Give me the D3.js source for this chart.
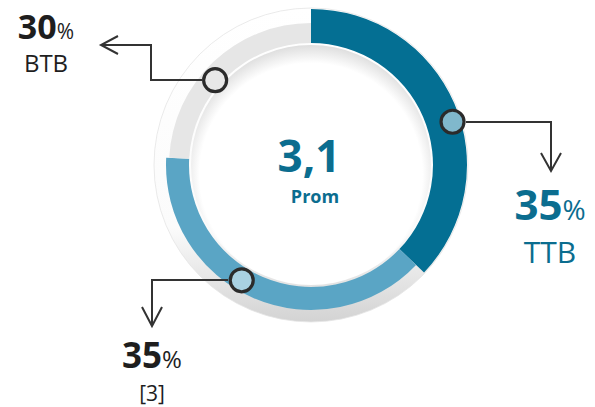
<!DOCTYPE html>
<html lang="es">
<head>
  <meta charset="utf-8">
  <title>Prom donut</title>
  <script src="https://d3js.org/d3.v7.min.js"></script>
  <style>
    body { margin: 0; background: #fff; }
    text { font-family: "Open Sans", sans-serif; }
  </style>
</head>
<body>
<script>
  // data
  var categories = ['TTB', '[3]', 'BTB'];
  var percents = [35, 35, 30];            // printed labels
  var arcShare = [37.1, 38.7, 24.2];       // visible arc lengths (% of the ring)
  var average = '3,1';
  var averageLabel = 'Prom';

  var colors = ['#046f93', '#5aa5c5', '#e6e6e6'];
  var markerFill = ['#80b8cc', '#a9d1e2', '#e8e8e8'];

  var w = 595, h = 407;
  var cx = 311, cy = 165;
  var innerR = 122;
  var outerR = [156, 145, 142];

  var svg = d3.select('body').append('svg')
    .attr('width', w)
    .attr('height', h);

  var defs = svg.append('defs');
  var halo = defs.append('linearGradient').attr('id', 'halo')
    .attr('x1', 0).attr('y1', 0).attr('x2', 0).attr('y2', 1);
  halo.append('stop').attr('offset', '0%').attr('stop-color', '#ffffff');
  halo.append('stop').attr('offset', '70%').attr('stop-color', '#fbfbfb');
  halo.append('stop').attr('offset', '100%').attr('stop-color', '#d3d3d3');

  var disc = defs.append('radialGradient').attr('id', 'disc')
    .attr('cx', '50%').attr('cy', '54%').attr('r', '54%');
  disc.append('stop').attr('offset', '86%').attr('stop-color', '#ffffff');
  disc.append('stop').attr('offset', '100%').attr('stop-color', '#dedede');

  var g = svg.append('g').attr('transform', 'translate(' + cx + ',' + cy + ')');

  // white plate behind the ring
  g.append('circle')
    .attr('r', 157)
    .attr('fill', 'url(#halo)')
    .attr('stroke', '#e4e4e4')
    .attr('stroke-width', 0.8);

  var pie = d3.pie().sort(null).value(function(d) { return d; });
  var arcs = pie(arcShare);

  g.selectAll('path.seg')
    .data(arcs)
    .enter()
    .append('path')
    .attr('class', 'seg')
    .attr('d', function(d, i) {
      return d3.arc().innerRadius(innerR).outerRadius(outerR[i])(d);
    })
    .attr('fill', function(d, i) { return colors[i]; });

  // inner disc
  g.append('circle')
    .attr('r', innerR - 2)
    .attr('fill', 'url(#disc)');

  // markers: angle (deg, clockwise from top) and radius
  var markerAngle = [73, 211, 311.5];
  var markerRadius = [148, 134.5, 128];
  function pos(i) {
    var a = markerAngle[i] * Math.PI / 180;
    return [markerRadius[i] * Math.sin(a), -markerRadius[i] * Math.cos(a)];
  }

  // connectors (in page coords)
  var connectors = [
    [[466, 122], [551, 122], [551, 171]],
    [[228, 280], [152, 280], [152, 326]],
    [[202, 80], [151, 80], [151, 45], [101, 45]]
  ];
  var heads = [
    [[541, 153], [551, 171], [561, 153]],
    [[142, 307], [152, 326], [162, 307]],
    [[118, 36], [101, 45], [118, 54]]
  ];
  var line = d3.line();
  svg.selectAll('path.conn')
    .data(connectors)
    .enter()
    .append('path')
    .attr('class', 'conn')
    .attr('d', line)
    .attr('fill', 'none')
    .attr('stroke', '#333')
    .attr('stroke-width', 2);
  svg.selectAll('path.head')
    .data(heads)
    .enter()
    .append('path')
    .attr('class', 'head')
    .attr('d', line)
    .attr('fill', 'none')
    .attr('stroke', '#333')
    .attr('stroke-width', 2);

  g.selectAll('circle.marker')
    .data(categories)
    .enter()
    .append('circle')
    .attr('class', 'marker')
    .attr('cx', function(d, i) { return pos(i)[0]; })
    .attr('cy', function(d, i) { return pos(i)[1]; })
    .attr('r', 11.5)
    .attr('fill', function(d, i) { return markerFill[i]; })
    .attr('stroke', '#2b2b2b')
    .attr('stroke-width', 3.2);

  // centre text
  g.append('text')
    .attr('x', -2).attr('y', 7)
    .attr('text-anchor', 'middle')
    .attr('font-size', 44).attr('font-weight', 'bold')
    .attr('fill', '#0b6d8f')
    .text(average);
  g.append('text')
    .attr('x', 4).attr('y', 38)
    .attr('text-anchor', 'middle')
    .attr('font-size', 18).attr('font-weight', 'bold')
    .attr('fill', '#0b6d8f')
    .text(averageLabel);

  // labels
  var labelCfg = [
    {x: 550, y: 220, cy: 263, big: 42, pct: 28, name: 30, color: '#0b6d8f'},
    {x: 152, y: 368, cy: 401, big: 35, pct: 24, name: 21, color: '#1e1e1e'},
    {x: 46, y: 39, cy: 72, big: 34, pct: 21, name: 24, color: '#1e1e1e'}
  ];
  categories.forEach(function(c, i) {
    var L = labelCfg[i];
    var t = svg.append('text')
      .attr('x', L.x).attr('y', L.y)
      .attr('text-anchor', 'middle')
      .attr('fill', L.color);
    t.append('tspan').attr('font-size', L.big).attr('font-weight', 'bold').text(percents[i]);
    t.append('tspan').attr('font-size', L.pct).text('%');
    svg.append('text')
      .attr('x', L.x).attr('y', L.cy)
      .attr('text-anchor', 'middle')
      .attr('font-size', L.name)
      .attr('fill', L.color)
      .text(c);
  });
</script>
</body>
</html>
